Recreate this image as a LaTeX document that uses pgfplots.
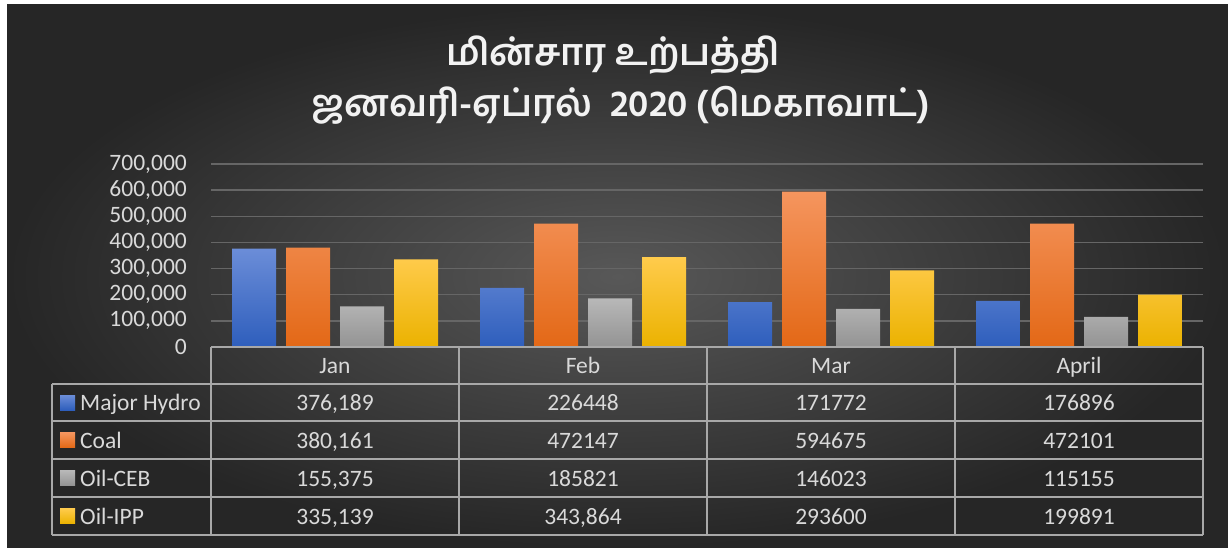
\documentclass[border=0pt]{standalone}
\usepackage{pgfplots}
\pgfplotsset{compat=1.18}
\usepackage{fontspec}
\setmainfont{Carlito}
\newfontfamily\tamilfont[Script=Tamil]{Hind Madurai}
\definecolor{bgouter}{HTML}{262626}
\definecolor{bginner}{HTML}{585858}
\definecolor{gridcol}{HTML}{666666}
\definecolor{labcol}{HTML}{D9D9D9}
\definecolor{linecol}{HTML}{A8A8A8}
\definecolor{hydtop}{HTML}{6B8DD8}
\definecolor{hydbot}{HTML}{2E5EBC}
\definecolor{coaltop}{HTML}{F5955E}
\definecolor{coalbot}{HTML}{E36816}
\definecolor{cebtop}{HTML}{B8B8B8}
\definecolor{cebbot}{HTML}{939393}
\definecolor{ipptop}{HTML}{FFCB4C}
\definecolor{ippbot}{HTML}{EBB200}
\begin{document}
\begin{tikzpicture}[x=1pt,y=1pt]
\fill[white] (0,0) rectangle (1228,-548);
\shade[inner color=bginner, outer color=bgouter] (7,-5) rectangle (1228,-548);
\node[font=\tamilfont\bfseries\fontsize{37}{42}\selectfont, text=white!95!black] at (613,-55) {மின்சார உற்பத்தி};
\node[font=\tamilfont\bfseries\fontsize{37}{42}\selectfont, text=white!95!black] at (620.5,-105) {ஜனவரி-ஏப்ரல்\ \ 2020 (மெகாவாட்)};
\begin{axis}[
  at={(211pt,-347pt)}, anchor=south west,
  width=992pt, height=183pt, scale only axis,
  xmin=-0.5, xmax=3.5, ymin=0, ymax=700000,
  ytick={0,100000,200000,300000,400000,500000,600000,700000},
  yticklabels={0,{100,000},{200,000},{300,000},{400,000},{500,000},{600,000},{700,000}},
  xtick=\empty,
  ymajorgrids, grid style={gridcol, line width=1.5pt},
  axis line style={draw=none}, major tick length=0pt,
  ybar=10pt, bar width=44pt,
  scaled y ticks=false,
  yticklabel style={text=labcol, font=\fontsize{23.5}{25}\selectfont, inner sep=0pt, anchor=east, xshift=-24pt},
]
\addplot[draw=none, top color=hydtop, bottom color=hydbot] coordinates {(0,376189) (1,226448) (2,171772) (3,176896)};
\addplot[draw=none, top color=coaltop, bottom color=coalbot] coordinates {(0,380161) (1,472147) (2,594675) (3,472101)};
\addplot[draw=none, top color=cebtop, bottom color=cebbot] coordinates {(0,155375) (1,185821) (2,146023) (3,115155)};
\addplot[draw=none, top color=ipptop, bottom color=ippbot] coordinates {(0,335139) (1,343864) (2,293600) (3,199891)};
\end{axis}
% data table
\draw[linecol, line width=2pt] (211,-347) -- (1203,-347);
\foreach \yy in {384,421,459,497,535} \draw[linecol, line width=2pt] (52,-\yy) -- (1203,-\yy);
\foreach \xx in {211,459,707,955,1203} \draw[linecol, line width=2pt] (\xx,-347) -- (\xx,-535);
\draw[linecol, line width=2pt] (52,-384) -- (52,-535);
\begin{scope}[every node/.style={text=labcol, font=\fontsize{23.5}{25}\selectfont, inner sep=0pt, anchor=base}]
\node at (335,-373) {Jan};
\node at (583,-373) {Feb};
\node at (831,-373) {Mar};
\node at (1079,-373) {April};
% legend column
\shade[top color=hydtop, bottom color=hydbot] (60,-395) rectangle (75,-410);
\node[anchor=base west] at (80,-410.5) {Major Hydro};
\shade[top color=coaltop, bottom color=coalbot] (60,-432.5) rectangle (75,-447.5);
\node[anchor=base west] at (80,-448) {Coal};
\shade[top color=cebtop, bottom color=cebbot] (60,-470.5) rectangle (75,-485.5);
\node[anchor=base west] at (80,-486) {Oil-CEB};
\shade[top color=ipptop, bottom color=ippbot] (60,-508.5) rectangle (75,-523.5);
\node[anchor=base west] at (80,-524) {Oil-IPP};
% values
\node at (335,-410.5) {376,189};
\node at (583,-410.5) {226448};
\node at (831,-410.5) {171772};
\node at (1079,-410.5) {176896};
\node at (335,-448) {380,161};
\node at (583,-448) {472147};
\node at (831,-448) {594675};
\node at (1079,-448) {472101};
\node at (335,-486) {155,375};
\node at (583,-486) {185821};
\node at (831,-486) {146023};
\node at (1079,-486) {115155};
\node at (335,-524) {335,139};
\node at (583,-524) {343,864};
\node at (831,-524) {293600};
\node at (1079,-524) {199891};
\end{scope}
\path[use as bounding box] (0,0) rectangle (1228,-548);
\end{tikzpicture}
\end{document}
